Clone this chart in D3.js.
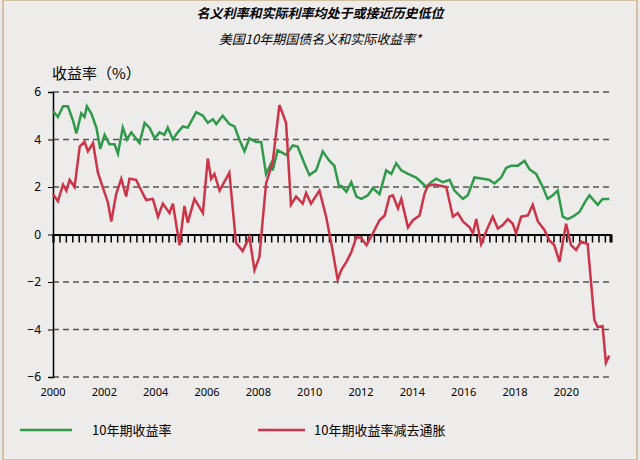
<!DOCTYPE html><html><head><meta charset="utf-8"><script src="https://cdn.jsdelivr.net/npm/d3@7"></script>
<style>body{margin:0;background:#ece9e9;font-family:"Noto Sans CJK SC","Noto Sans",sans-serif}</style></head><body><svg id="c" width="640" height="460"></svg><script>
const yTicks=[-6,-4,-2,0,2,4,6];
const xYears=[2000,2002,2004,2006,2008,2010,2012,2014,2016,2018,2020];
const nominalDates=[0,.19,.39,.58,.78,.91,1.10,1.23,1.32,1.49,1.69,1.84,2.01,2.20,2.40,2.53,2.72,2.88,3.05,3.37,3.57,3.76,3.96,4.15,4.34,4.47,4.67,4.86,5.06,5.25,5.58,5.84,6.03,6.23,6.36,6.61,6.87,7.07,7.26,7.46,7.65,7.91,8.11,8.30,8.50,8.56,8.75,9.08,9.34,9.53,9.79,9.99,10.25,10.51,10.77,10.96,11.15,11.23,11.43,11.62,11.82,12.01,12.27,12.46,12.72,12.98,13.18,13.37,13.57,13.83,14.15,14.35,14.54,14.73,14.93,15.19,15.45,15.64,15.97,16.16,16.42,16.75,17.00,17.20,17.46,17.65,17.85,18.11,18.37,18.56,18.82,19.08,19.27,19.47,19.66,19.86,20.05,20.25,20.51,20.77,20.90,21.22,21.41,21.67];
const nominalYield=[5.2,4.95,5.4,5.4,4.8,4.25,5.1,4.95,5.4,5.1,4.5,3.6,4.2,3.8,3.8,3.4,4.5,4.0,4.3,3.85,4.7,4.5,4.05,4.3,4.2,4.5,4.0,4.3,4.55,4.5,5.15,5.0,4.7,4.85,4.65,5.0,4.65,4.55,4.0,3.5,4.05,3.9,3.9,2.55,3.0,2.7,3.55,3.35,3.75,3.7,3.0,2.5,2.7,3.5,3.1,2.9,2.0,2.05,1.8,2.2,1.6,1.5,1.65,1.95,1.7,2.7,2.55,3.0,2.7,2.55,2.4,2.2,2.0,2.2,2.35,2.2,2.3,1.85,1.5,1.65,2.4,2.35,2.3,2.15,2.4,2.8,2.9,2.9,3.1,2.75,2.55,2.0,1.5,1.65,1.85,0.75,0.65,0.75,0.95,1.45,1.65,1.25,1.5,1.5];
const realDates=[0,.19,.39,.52,.65,.84,1.04,1.23,1.36,1.56,1.75,1.95,2.14,2.27,2.46,2.66,2.85,2.98,3.24,3.37,3.63,3.89,4.09,4.28,4.54,4.67,4.93,5.12,5.25,5.51,5.84,6.03,6.16,6.29,6.49,6.87,7.13,7.39,7.65,7.85,8.04,8.30,8.56,8.82,9.08,9.27,9.47,9.73,9.86,10.05,10.38,10.64,10.83,11.09,11.23,11.43,11.62,11.82,12.01,12.21,12.46,12.72,12.92,13.11,13.24,13.44,13.57,13.83,14.02,14.28,14.47,14.60,14.86,15.32,15.58,15.77,15.97,16.23,16.36,16.49,16.68,16.94,17.13,17.33,17.52,17.72,17.91,18.04,18.24,18.50,18.69,18.89,19.14,19.34,19.53,19.73,19.99,20.18,20.38,20.57,20.83,20.96,21.09,21.22,21.41,21.54,21.67];
const realYield=[1.7,1.4,2.1,1.85,2.3,2.0,3.7,3.9,3.5,3.85,2.6,1.95,1.35,0.55,1.7,2.35,1.6,2.35,2.3,2.0,1.45,1.5,0.75,1.3,0.9,1.3,-0.45,1.2,0.5,1.5,0.9,3.2,2.35,2.55,1.85,2.6,-0.35,-0.7,-0.1,-1.5,-0.95,2.15,3.05,5.45,4.7,1.25,1.6,1.3,1.75,1.3,1.85,0.75,-0.3,-1.9,-1.5,-1.15,-0.75,-0.1,-0.15,-0.45,0.05,0.6,0.8,1.6,1.65,1.1,1.5,0.3,0.6,0.8,1.7,2.05,2.1,2.0,0.75,0.9,0.55,0.3,0.05,0.65,-0.4,0.3,0.75,0.25,0.4,0.65,0.45,0.05,0.75,0.8,1.25,0.55,0.2,-0.25,-0.45,-1.15,0.45,-0.45,-0.65,-0.3,-0.4,-2.0,-3.6,-3.9,-3.85,-5.4,-5.1];
const svg=d3.select("#c");
svg.append("rect").attr("x",3).attr("y",0).attr("width",634).attr("height",460).attr("fill","#eeebeb").attr("stroke","#c9b48e").attr("stroke-width",1.5);
const x=d3.scaleLinear().domain([2000,2021.7]).range([53,610]);
const y=d3.scaleLinear().domain([-6,6]).range([377,92]);
svg.append("text").attr("x",320).attr("y",18).attr("text-anchor","middle").attr("font-size",13).attr("font-weight","bold").attr("font-style","italic").text("名义利率和实际利率均处于或接近历史低位");
svg.append("text").attr("x",320).attr("y",44).attr("text-anchor","middle").attr("font-size",13).attr("font-style","italic").text("美国10年期国债名义和实际收益率*");
svg.append("text").attr("x",52).attr("y",79).attr("font-size",15).text("收益率（%）");
const g=svg.append("g");
yTicks.filter(v=>v!==0).forEach(v=>g.append("line").attr("x1",53).attr("x2",612).attr("y1",y(v)).attr("y2",y(v)).attr("stroke","#555").attr("stroke-width",1.3).attr("stroke-dasharray","6,4"));
g.append("g").attr("transform","translate(53,0)").call(d3.axisLeft(y).tickValues(yTicks).tickSize(5).tickPadding(7).tickFormat(d3.format("d")))
 .call(a=>{a.select(".domain").attr("stroke","#000").attr("stroke-width",1.5);a.selectAll("text").attr("font-size",12).attr("font-family","Noto Sans");});
const q=d3.range(2000,2021.76,0.25);
g.append("g").attr("transform",`translate(0,${y(0)})`).call(d3.axisBottom(x).tickValues(q).tickSize(8).tickFormat(""))
 .call(a=>{a.select(".domain").attr("stroke","#000").attr("stroke-width",2);a.selectAll("line").attr("stroke-width",1.5);});
xYears.forEach(v=>svg.append("text").attr("x",x(v)).attr("y",396).attr("text-anchor","middle").attr("font-size",11).attr("font-family","Noto Sans").text(v));
const line=d3.line().x(d=>x(2000+d[0])).y(d=>y(d[1]));
g.append("path").datum(d3.zip(nominalDates,nominalYield)).attr("d",line).attr("fill","none").attr("stroke","#2e9a4a").attr("stroke-width",2.5);
g.append("path").datum(d3.zip(realDates,realYield)).attr("d",line).attr("fill","none").attr("stroke","#cc3448").attr("stroke-width",2.5);
svg.append("line").attr("x1",20).attr("x2",72).attr("y1",430).attr("y2",430).attr("stroke","#2e9a4a").attr("stroke-width",2.5);
svg.append("text").attr("x",92).attr("y",435).attr("font-size",13).text("10年期收益率");
svg.append("line").attr("x1",258).attr("x2",305).attr("y1",430).attr("y2",430).attr("stroke","#cc3448").attr("stroke-width",2.5);
svg.append("text").attr("x",314).attr("y",435).attr("font-size",13).text("10年期收益率减去通胀");
</script></body></html>
